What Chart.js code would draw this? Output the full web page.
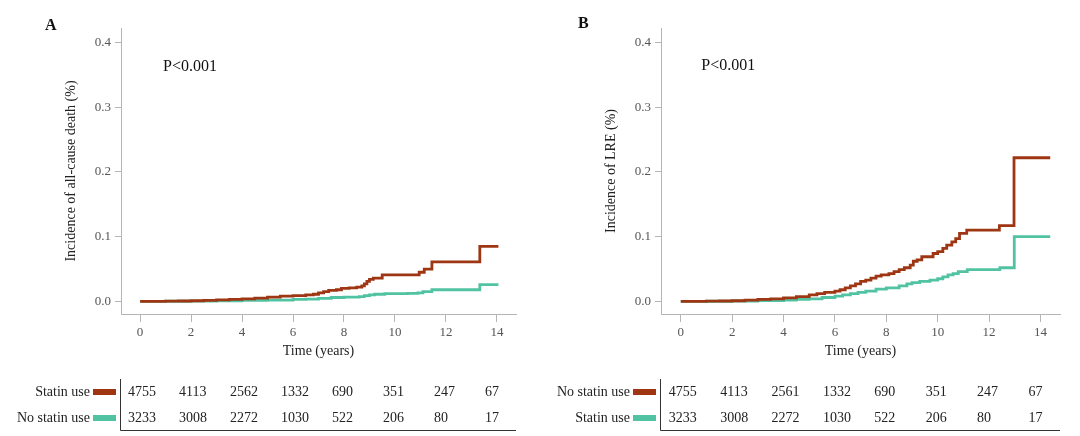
<!DOCTYPE html>
<html>
<head>
<meta charset="utf-8">
<script src="https://cdn.jsdelivr.net/npm/chart.js@4"></script>
<style>
  body { margin: 0; background: #fff; }
  .panel { position: absolute; top: 0; width: 540px; height: 436px; }
  #panelA { left: 0; }
  #panelB { left: 540px; }
</style>
</head>
<body>
<div class="panel" id="panelA"><canvas id="chartA" width="540" height="436"></canvas></div>
<div class="panel" id="panelB"><canvas id="chartB" width="540" height="436"></canvas></div>
<script>
const xTicks = [0, 2, 4, 6, 8, 10, 12, 14];
const yTicks = [0, 0.1, 0.2, 0.3, 0.4];

// Panel A: all-cause death
const deathStatinTime  = [0, 0.5, 1, 1.5, 2, 2.5, 3, 3.5, 4, 4.5, 5, 5.5, 6, 6.5, 6.8, 7.0, 7.2, 7.4, 7.7, 7.9, 8.2, 8.5, 8.7, 8.8, 8.9, 9.0, 9.15, 9.5, 10.95, 11.15, 11.45, 13.33, 14.06];
const deathStatinValue = [0, 0.0001, 0.0003, 0.0006, 0.001, 0.0015, 0.0022, 0.003, 0.004, 0.005, 0.0065, 0.008, 0.009, 0.010, 0.011, 0.013, 0.015, 0.017, 0.018, 0.020, 0.021, 0.022, 0.024, 0.027, 0.031, 0.034, 0.036, 0.041, 0.045, 0.050, 0.061, 0.085, 0.085];
const deathNoStatinTime  = [0, 1, 2, 3, 4, 5, 6, 6.5, 7, 7.5, 8, 8.6, 8.8, 9.0, 9.2, 9.6, 10.5, 10.9, 11.1, 11.45, 13.33, 14.06];
const deathNoStatinValue = [0, 0.0002, 0.0005, 0.001, 0.0015, 0.002, 0.003, 0.0035, 0.0045, 0.006, 0.0065, 0.0075, 0.009, 0.010, 0.011, 0.012, 0.0125, 0.013, 0.015, 0.018, 0.026, 0.026];
const deathRiskStatin   = [4755, 4113, 2562, 1332, 690, 351, 247, 67];
const deathRiskNoStatin = [3233, 3008, 2272, 1030, 522, 206, 80, 17];

// Panel B: LRE
const lreNoStatinTime  = [0, 0.5, 1, 1.5, 2, 2.5, 3, 3.5, 4, 4.5, 5, 5.3, 5.6, 6, 6.2, 6.4, 6.6, 6.8, 7, 7.2, 7.4, 7.6, 7.8, 8.1, 8.3, 8.5, 8.7, 8.93, 9.05, 9.2, 9.38, 9.82, 10.0, 10.2, 10.35, 10.55, 10.7, 10.85, 11.13, 12.4, 12.97, 14.38];
const lreNoStatinValue = [0, 0.0001, 0.0003, 0.0006, 0.001, 0.0018, 0.003, 0.004, 0.0055, 0.0075, 0.010, 0.012, 0.014, 0.016, 0.018, 0.021, 0.024, 0.027, 0.031, 0.033, 0.036, 0.039, 0.041, 0.043, 0.046, 0.049, 0.052, 0.056, 0.062, 0.064, 0.069, 0.074, 0.077, 0.082, 0.087, 0.092, 0.097, 0.105, 0.110, 0.117, 0.222, 0.222];
const lreStatinTime  = [0, 1, 2, 3, 4, 4.5, 5, 5.5, 6, 6.3, 6.6, 6.9, 7.2, 7.6, 8, 8.5, 8.8, 9, 9.3, 9.7, 10, 10.2, 10.4, 10.6, 10.8, 11.15, 12.42, 12.98, 14.38];
const lreStatinValue = [0, 0.0002, 0.0006, 0.0012, 0.002, 0.003, 0.004, 0.006, 0.008, 0.010, 0.012, 0.014, 0.016, 0.019, 0.021, 0.024, 0.027, 0.029, 0.031, 0.033, 0.035, 0.038, 0.041, 0.043, 0.046, 0.049, 0.052, 0.100, 0.100];
const lreRiskNoStatin = [4755, 4113, 2561, 1332, 690, 351, 247, 67];
const lreRiskStatin   = [3233, 3008, 2272, 1030, 522, 206, 80, 17];

const RED = '#9e3613';
const TEAL = '#52c3a2';
const SERIF = '"Liberation Serif", "Times New Roman", serif';

function toPoints(times, values) {
  return times.map((t, i) => ({ x: t, y: values[i] }));
}

const annotations = {
  id: 'annotations',
  afterDraw(chart, args, opts) {
    const ctx = chart.ctx;
    const xs = chart.scales.x;
    const ys = chart.scales.y;
    ctx.save();
    ctx.fillStyle = '#111';
    ctx.textBaseline = 'middle';
    ctx.font = 'bold 16px ' + SERIF;
    ctx.fillText(opts.letter, opts.letterPos[0], opts.letterPos[1]);

    ctx.font = '16px ' + SERIF;
    ctx.fillText('P<0.001', xs.getPixelForValue(opts.pAt[0]), ys.getPixelForValue(opts.pAt[1]));

    // number at risk table
    const rowY = [392, 418];
    const axisX = xs.left - 1;
    ctx.font = '14px ' + SERIF;
    opts.rows.forEach((row, r) => {
      ctx.fillStyle = '#222';
      ctx.textAlign = 'right';
      ctx.fillText(row.label, axisX - 30, rowY[r]);
      ctx.fillStyle = row.color;
      ctx.fillRect(axisX - 27, rowY[r] - 3, 23, 6);
      ctx.fillStyle = '#222';
      ctx.textAlign = 'left';
      row.counts.forEach((n, i) => {
        ctx.fillText(String(n), xs.getPixelForValue(xTicks[i]) - 12, rowY[r]);
      });
    });
    ctx.strokeStyle = '#333';
    ctx.lineWidth = 1;
    ctx.beginPath();
    ctx.moveTo(axisX + 0.5, 379);
    ctx.lineTo(axisX + 0.5, 430.5);
    ctx.lineTo(xs.right, 430.5);
    ctx.stroke();
    ctx.restore();
  }
};

function makeChart(id, cfg) {
  new Chart(document.getElementById(id), {
    type: 'line',
    data: {
      datasets: [
        { data: toPoints(cfg.redTime, cfg.redValue), borderColor: RED, borderWidth: 2.8, stepped: 'before', pointRadius: 0, fill: false },
        { data: toPoints(cfg.tealTime, cfg.tealValue), borderColor: TEAL, borderWidth: 2.8, stepped: 'before', pointRadius: 0, fill: false }
      ]
    },
    options: {
      responsive: false,
      animation: false,
      events: [],
      layout: { padding: { left: 59, top: 28, right: cfg.rightPad, bottom: 72 } },
      plugins: {
        legend: { display: false },
        tooltip: { enabled: false },
        annotations: cfg.annot
      },
      scales: {
        x: {
          type: 'linear',
          min: cfg.xMin,
          max: cfg.xMax,
          afterFit: s => { s.height = 50; },
          afterBuildTicks: s => { s.ticks = xTicks.map(v => ({ value: v })); },
          grid: { drawOnChartArea: false, drawTicks: true, tickLength: 8, tickColor: '#b5b5b5' },
          border: { color: '#b5b5b5', width: 1 },
          ticks: { font: { family: SERIF, size: 13 }, color: '#555', padding: 3, maxRotation: 0 },
          title: { display: true, text: 'Time (years)', font: { family: SERIF, size: 14 }, color: '#222', padding: { top: 4, bottom: 4 } }
        },
        y: {
          type: 'linear',
          min: -0.0195,
          max: 0.4225,
          afterFit: s => { s.width = 62; },
          afterBuildTicks: s => { s.ticks = yTicks.map(v => ({ value: v })); },
          grid: { drawOnChartArea: false, drawTicks: true, tickLength: 6, tickColor: '#b5b5b5' },
          border: { color: '#b5b5b5', width: 1 },
          ticks: { font: { family: SERIF, size: 13 }, color: '#555', padding: 4, callback: v => v.toFixed(1) },
          title: { display: true, text: cfg.yTitle, font: { family: SERIF, size: 14 }, color: '#222', padding: { top: 4, bottom: 4 } }
        }
      }
    },
    plugins: [annotations]
  });
}

makeChart('chartA', {
  redTime: deathStatinTime, redValue: deathStatinValue,
  tealTime: deathNoStatinTime, tealValue: deathNoStatinValue,
  xMin: -0.75, xMax: 14.75, rightPad: 24,
  yTitle: 'Incidence of all-cause death (%)',
  annot: {
    letter: 'A', letterPos: [45, 26], pAt: [0.9, 0.362],
    rows: [
      { label: 'Statin use', color: RED, counts: deathRiskStatin },
      { label: 'No statin use', color: TEAL, counts: deathRiskNoStatin }
    ]
  }
});

makeChart('chartB', {
  redTime: lreNoStatinTime, redValue: lreNoStatinValue,
  tealTime: lreStatinTime, tealValue: lreStatinValue,
  xMin: -0.77, xMax: 14.76, rightPad: 20,
  yTitle: 'Incidence of LRE (%)',
  annot: {
    letter: 'B', letterPos: [38, 24], pAt: [0.8, 0.364],
    rows: [
      { label: 'No statin use', color: RED, counts: lreRiskNoStatin },
      { label: 'Statin use', color: TEAL, counts: lreRiskStatin }
    ]
  }
});
</script>
</body>
</html>
